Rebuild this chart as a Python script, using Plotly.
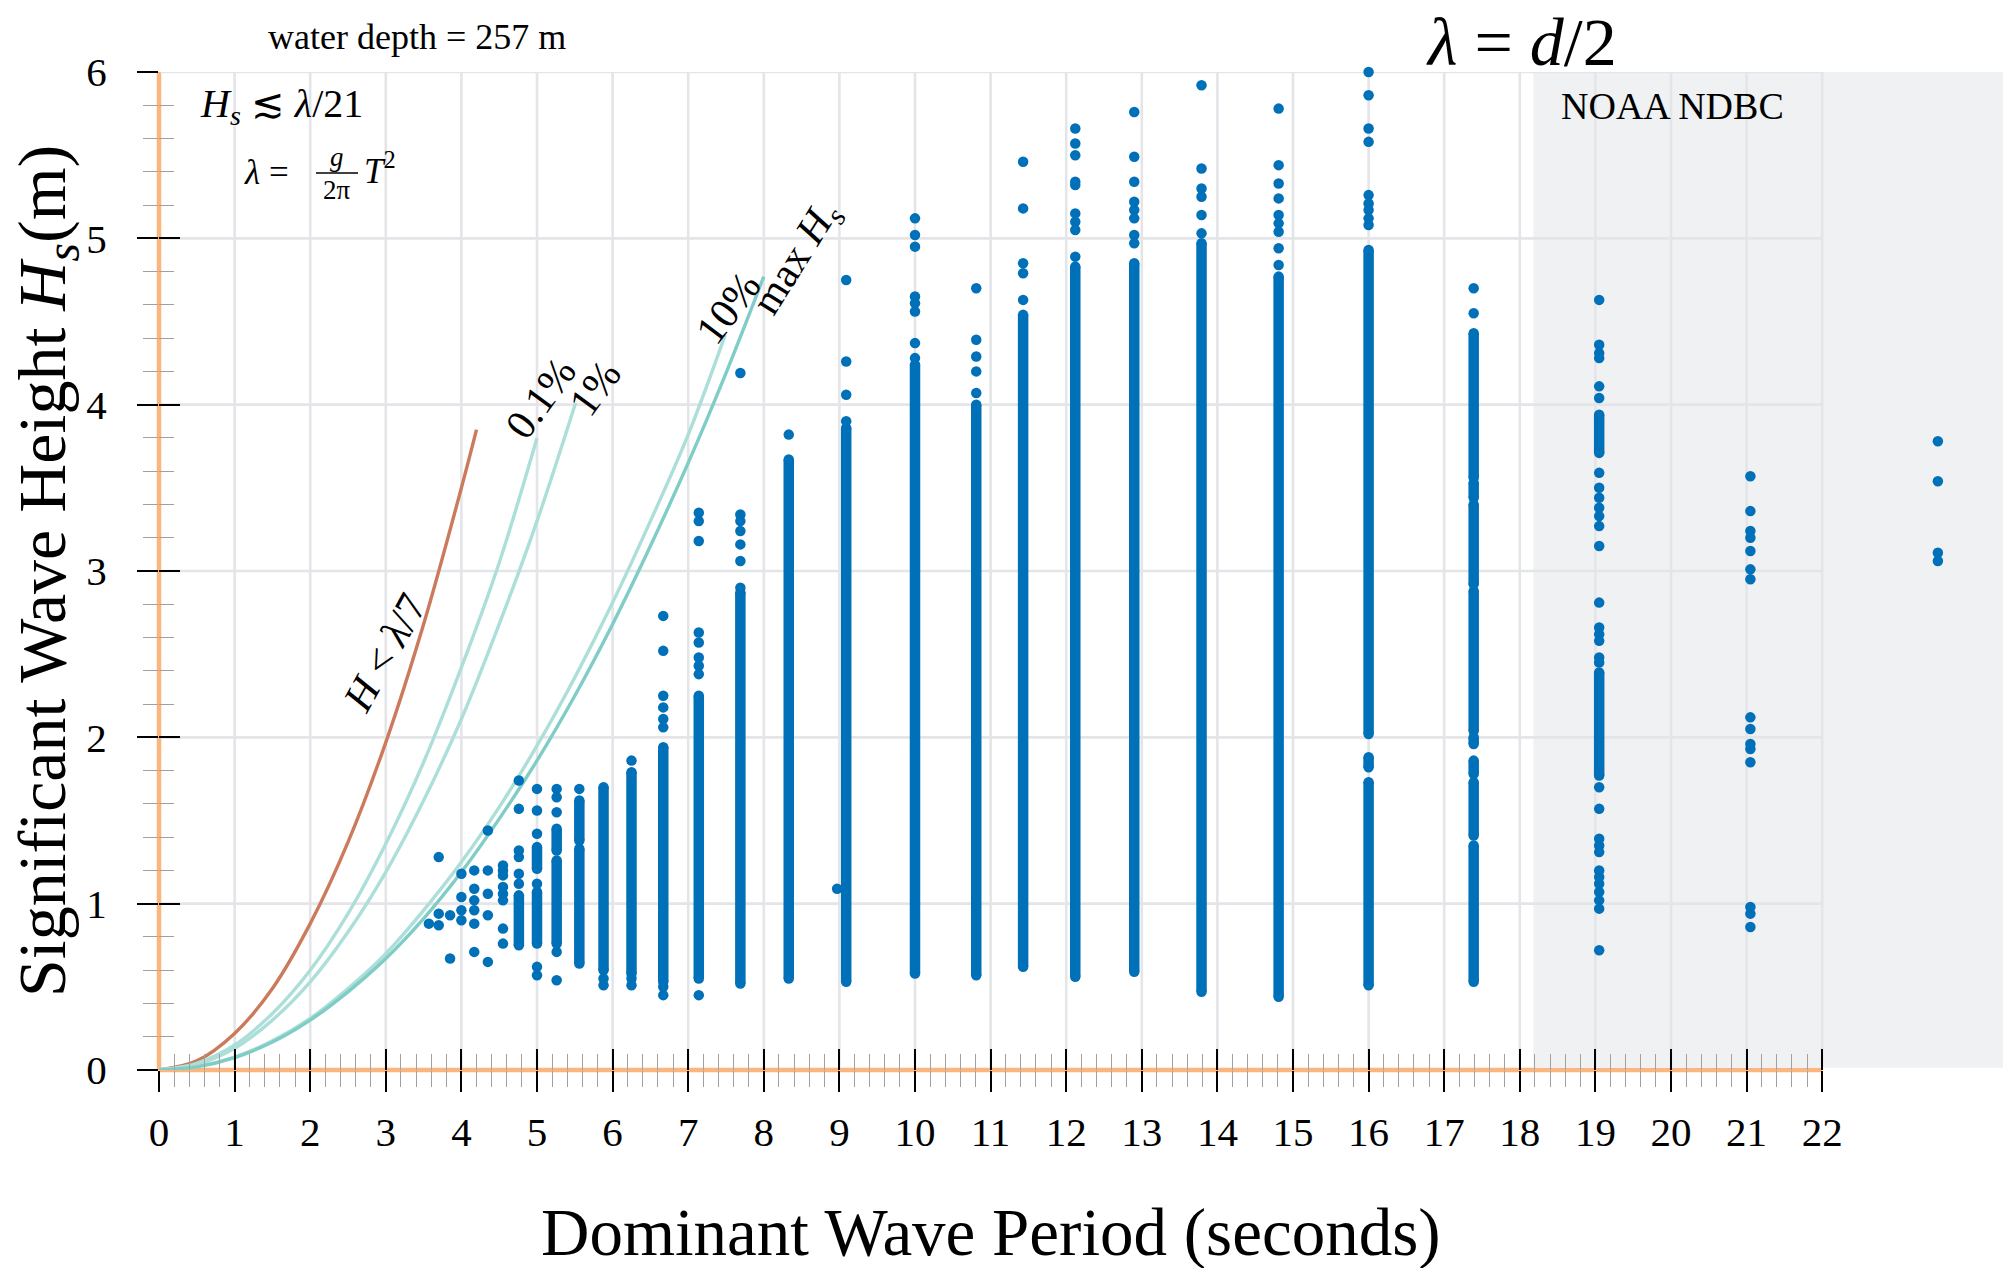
import plotly.graph_objects as go

# ---------------- data ----------------
periods = [3.57, 3.70, 3.85, 4.00, 4.17, 4.35, 4.55, 4.76, 5.00, 5.26, 5.56, 5.88,
           6.25, 6.67, 7.14, 7.69, 8.33, 8.97, 9.09, 10.00, 10.81, 11.43, 12.12,
           12.90, 13.79, 14.81, 16.00, 17.39, 19.05, 21.05, 23.53]

# isolated Hs readings per period
hs_points = [
    [0.88],
    [1.28, 0.94, 0.87],
    [0.93, 0.67],
    [1.18, 1.04, 0.96, 0.90],
    [1.20, 1.09, 1.02, 0.96, 0.88, 0.71],
    [1.44, 1.20, 1.06, 0.93, 0.65],
    [1.23, 1.20, 1.17, 1.10, 1.06, 1.02, 0.85, 0.76],
    [1.74, 1.57, 1.32, 1.28, 1.18, 1.12],
    [1.69, 1.56, 1.42, 1.12, 0.62, 0.57],
    [1.69, 1.64, 1.55, 0.71, 0.54],
    [1.69],
    [0.55, 0.51],
    [1.86, 0.55, 0.51],
    [2.73, 2.52, 2.25, 2.18, 2.11, 2.06, 0.50, 0.45],
    [3.35, 3.30, 3.18, 2.63, 2.57, 2.48, 2.43, 2.38, 0.45],
    [4.19, 3.34, 3.30, 3.24, 3.16, 3.06, 2.90],
    [3.82],
    [1.09],
    [4.75, 4.26, 4.06, 3.90],
    [5.12, 5.02, 4.95, 4.65, 4.61, 4.56, 4.37, 4.28],
    [4.70, 4.39, 4.29, 4.20, 4.07],
    [5.46, 5.18, 4.85, 4.79, 4.63],
    [6.03, 5.66, 5.57, 5.50, 5.34, 5.32, 5.15, 5.10, 5.05, 4.89],
    [5.76, 5.49, 5.34, 5.22, 5.17, 5.12, 5.02, 4.97],
    [5.92, 5.42, 5.30, 5.25, 5.14, 5.03],
    [5.78, 5.44, 5.33, 5.24, 5.14, 5.09, 5.04, 4.94, 4.84],
    [6.00, 5.86, 5.66, 5.58, 5.26, 5.21, 5.17, 5.12, 5.08],
    [4.70, 4.55],
    [4.63, 4.36, 4.31, 4.28, 4.11, 4.04, 3.59, 3.50, 3.44, 3.38, 3.33, 3.27, 3.15,
     2.81, 2.66, 2.62, 2.58, 2.48, 2.45, 1.70, 1.57, 1.39, 1.35, 1.31, 1.20, 1.16,
     1.12, 1.07, 1.02, 0.97, 0.72],
    [3.57, 3.36, 3.24, 3.20, 3.12, 3.01, 2.95, 2.12, 2.05, 1.96, 1.93, 1.85, 0.98, 0.94, 0.86],
    [3.78, 3.54, 3.11, 3.06],
]

# densely packed runs of readings per period: (lowest Hs, highest Hs)
hs_runs = [
    [], [], [], [], [], [], [],
    [(0.75, 1.05)],
    [(1.21, 1.34), (0.76, 1.07)],
    [(1.32, 1.45), (0.76, 1.26)],
    [(1.38, 1.62), (0.64, 1.33)],
    [(0.60, 1.70)],
    [(0.58, 1.79)],
    [(0.53, 1.94)],
    [(0.55, 2.25)],
    [(0.52, 2.87)],
    [(0.55, 3.67)],
    [],
    [(0.53, 3.86)],
    [(0.58, 4.24)],
    [(0.57, 4.00)],
    [(0.62, 4.54)],
    [(0.56, 4.83)],
    [(0.59, 4.85)],
    [(0.47, 4.97)],
    [(0.44, 4.77)],
    [(2.02, 4.93), (1.82, 1.88), (0.51, 1.73)],
    [(3.56, 4.43), (3.44, 3.53), (2.92, 3.40), (2.04, 2.88), (1.96, 2.00),
     (1.78, 1.86), (1.41, 1.73), (0.53, 1.35)],
    [(3.71, 3.94), (1.77, 2.39)],
    [],
    [],
]

# limit curves (period, height)
steep_T = [0, 0.5, 1.0, 1.5, 2.0, 2.5, 3.0, 3.5, 4.0, 4.2]
steep_H = [0, 0.055, 0.22, 0.49, 0.88, 1.37, 1.97, 2.68, 3.50, 3.85]
p01_T = [0, 0.5, 1.0, 1.5, 2.0, 2.5, 3.0, 3.5, 4.0, 4.5, 5.0]
p01_H = [0, 0.04, 0.15, 0.34, 0.60, 0.94, 1.36, 1.85, 2.42, 3.05, 3.80]
p1_T = [0, 0.5, 1.0, 1.5, 2.0, 2.5, 3.0, 3.5, 4.0, 4.5, 5.0, 5.51]
p1_H = [0, 0.033, 0.13, 0.30, 0.53, 0.83, 1.19, 1.62, 2.11, 2.68, 3.30, 4.01]
p10_T = [0, 0.5, 1.0, 1.5, 2.0, 2.5, 3.0, 3.5, 4.0, 4.5, 5.0, 5.5, 6.0, 6.5, 7.0, 7.49]
p10_H = [0, 0.02, 0.078, 0.175, 0.31, 0.49, 0.70, 0.96, 1.25, 1.58, 1.95, 2.36, 2.81, 3.30, 3.82, 4.42]
pmax_T = [0, 0.5, 1.0, 1.5, 2.0, 2.5, 3.0, 3.5, 4.0, 4.5, 5.0, 5.5, 6.0, 6.5, 7.0, 7.5, 8.0]
pmax_H = [0, 0.019, 0.075, 0.168, 0.30, 0.47, 0.67, 0.91, 1.19, 1.51, 1.86, 2.25, 2.68, 3.15, 3.65, 4.19, 4.77]

x_tick_vals = list(range(0, 23))
x_tick_text = [str(v) for v in x_tick_vals]
y_tick_vals = list(range(0, 7))
y_tick_text = [str(v) for v in y_tick_vals]

# ---------------- layout geometry ----------------
W, H = 2003, 1268
ML, MR, MT, MB = 159, 0, 72, 198
PW = W - ML - MR
PH = H - MT - MB
XMAX = PW / 75.6
FONT = "Liberation Serif"

def pxx(p):
    return (p - ML) / PW

def pxy(p):
    return (H - MB - p) / PH

DOT = "#0070b8"
fig = go.Figure()

# limit curves
curve_defs = [
    (steep_T, steep_H, "#cc7a5c"),
    (p01_T, p01_H, "#acdfd9"),
    (p1_T, p1_H, "#acdfd9"),
    (p10_T, p10_H, "#acdfd9"),
    (pmax_T, pmax_H, "#7fcdc6"),
]
for tx, hy, col in curve_defs:
    fig.add_trace(go.Scatter(x=tx, y=hy, mode="lines", line=dict(color=col, width=3.4, shape="spline"),
                             hoverinfo="skip", showlegend=False, cliponaxis=False))

# dense runs drawn as thick line between two readings, capped by dots
rx, ry = [], []
for T, runs in zip(periods, hs_runs):
    for lo, hi in runs:
        rx += [T, T, None]
        ry += [lo, hi, None]
fig.add_trace(go.Scatter(x=rx, y=ry, mode="lines+markers", line=dict(color=DOT, width=10.5),
                         marker=dict(color=DOT, size=10.5, line=dict(width=0)),
                         hoverinfo="skip", showlegend=False, cliponaxis=False))

ix, iy = [], []
for T, pts in zip(periods, hs_points):
    for v in pts:
        ix.append(T)
        iy.append(v)
fig.add_trace(go.Scatter(x=ix, y=iy, mode="markers",
                         marker=dict(color=DOT, size=10.5, line=dict(width=0)),
                         hoverinfo="skip", showlegend=False, cliponaxis=False))

# invisible trace for the overlay axes (inside ticks)
fig.add_trace(go.Scatter(x=[None], y=[None], xaxis="x2", yaxis="y2", showlegend=False, hoverinfo="skip"))

x_minor = [i / 5 for i in range(0, 111) if i % 5]
y_minor = [i / 5 for i in range(0, 31) if i % 5]

tickfont = dict(family=FONT, size=41, color="black")
fig.update_layout(
    width=W, height=H,
    margin=dict(l=ML, r=MR, t=MT, b=MB, pad=0),
    paper_bgcolor="white", plot_bgcolor="rgba(0,0,0,0)",
    showlegend=False,
    xaxis=dict(range=[0, XMAX], showgrid=False, zeroline=False, showline=False,
               tickmode="array", tickvals=x_tick_vals, ticktext=x_tick_text,
               ticks="outside", ticklen=21, tickwidth=2, tickcolor="black",
               tickfont=tickfont, ticklabelstandoff=5,
               minor=dict(tickmode="array", tickvals=x_minor, ticks="outside", ticklen=16,
                          tickwidth=1.3, tickcolor="#a0a0a0", showgrid=False)),
    xaxis2=dict(range=[0, XMAX], overlaying="x", anchor="y", side="bottom",
                showgrid=False, zeroline=False, showline=False, showticklabels=False,
                tickmode="array", tickvals=x_tick_vals,
                ticks="inside", ticklen=21, tickwidth=2, tickcolor="black",
                minor=dict(tickmode="array", tickvals=x_minor, ticks="inside", ticklen=16,
                           tickwidth=1.3, tickcolor="#a0a0a0", showgrid=False)),
    yaxis=dict(range=[0, 6], showgrid=False, zeroline=False, showline=False,
               tickmode="array", tickvals=y_tick_vals, ticktext=y_tick_text,
               ticks="outside", ticklen=21, tickwidth=2, tickcolor="black",
               tickfont=tickfont, ticklabelstandoff=22,
               minor=dict(tickmode="array", tickvals=y_minor, ticks="outside", ticklen=15,
                          tickwidth=1.3, tickcolor="#a0a0a0", showgrid=False)),
    yaxis2=dict(range=[0, 6], overlaying="y", anchor="x", side="left",
                showgrid=False, zeroline=False, showline=False, showticklabels=False,
                tickmode="array", tickvals=y_tick_vals,
                ticks="inside", ticklen=21, tickwidth=2, tickcolor="black",
                minor=dict(tickmode="array", tickvals=y_minor, ticks="inside", ticklen=15,
                           tickwidth=1.3, tickcolor="#a0a0a0", showgrid=False)),
)

shapes = []
AX = "#fbb57e"
# orange axis lines (paper refs so they are not clipped at the plot edge)
shapes.append(dict(type="line", xref="paper", yref="paper", x0=0, x1=22 / XMAX, y0=0, y1=0,
                   line=dict(color=AX, width=4.5), layer="below"))
shapes.append(dict(type="line", xref="paper", yref="paper", x0=0, x1=0, y0=0, y1=1,
                   line=dict(color=AX, width=4.5), layer="below"))
# shaded NOAA NDBC region
shapes.append(dict(type="rect", xref="x", yref="y", x0=18.18, x1=XMAX, y0=0.014, y1=6,
                   fillcolor="#f0f1f3", line=dict(width=0), layer="below"))
GRID = "#e4e5e8"
for v in range(1, 23):
    shapes.append(dict(type="line", xref="x", yref="y", x0=v, x1=v, y0=0.014, y1=6,
                       line=dict(color=GRID, width=2.6), layer="below"))
for v in range(1, 7):
    shapes.append(dict(type="line", xref="x", yref="y", x0=0.02, x1=22, y0=v, y1=v,
                       line=dict(color=GRID, width=2.6), layer="below"))
# fraction bar in g / 2pi
shapes.append(dict(type="line", xref="paper", yref="paper", x0=pxx(316), x1=pxx(358),
                   y0=pxy(173), y1=pxy(173), line=dict(color="black", width=1.6)))
fig.update_layout(shapes=shapes)

ann = []

def text_px(txt, x, y, size, xanchor="center", yanchor="middle", angle=0):
    ann.append(dict(text=txt, xref="paper", yref="paper", x=pxx(x), y=pxy(y),
                    xanchor=xanchor, yanchor=yanchor, showarrow=False, textangle=angle,
                    font=dict(family=FONT, size=size, color="black")))

def text_data(txt, x, y, size, angle):
    ann.append(dict(text=txt, xref="x", yref="y", x=x, y=y, xanchor="center", yanchor="middle",
                    showarrow=False, textangle=angle,
                    font=dict(family=FONT, size=size, color="black")))

text_px("water depth = 257 m", 417, 37, 36)
text_px("<i>H<sub>s</sub></i> ≲ <i>λ</i>/21", 198, 106, 40, xanchor="left")
text_px("<i>λ</i> =", 242, 172, 35, xanchor="left")
text_px("<i>g</i>", 337, 157, 27)
text_px("2π", 337, 190, 27)
text_px("<i>T</i><sup>2</sup>", 362, 168, 35, xanchor="left")
text_px("<i>λ</i> = <i>d</i>/2", 1521, 2, 68, yanchor="top")
text_px("NOAA NDBC", 1672, 106, 38)
text_px("Dominant Wave Period (seconds)", 991, 1232, 67)
text_px("Significant Wave Height <i>H<sub>s</sub></i>(m)", 46, 571, 68, angle=-90)

text_data("<i>H</i> &lt; <i>λ</i>/7", 2.98, 2.51, 42, -61)
text_data("0.1%", 5.05, 4.04, 42, -54)
text_data("1%", 5.77, 4.10, 42, -54)
text_data("10%", 7.53, 4.58, 42, -53)
text_data("max <i>H<sub>s</sub></i>", 8.45, 4.88, 42, -58)
fig.update_layout(annotations=ann)

fig.write_html("out.html", include_plotlyjs=True, config={"displayModeBar": False})
